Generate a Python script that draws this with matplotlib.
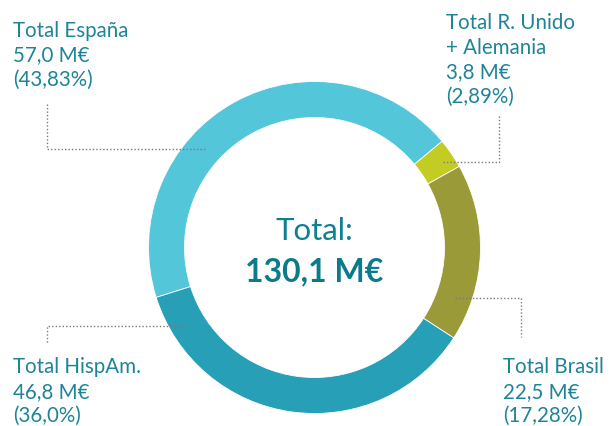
import matplotlib
matplotlib.use("Agg")
import matplotlib.pyplot as plt

# ---- data ----
categories = ["Total España", "Total R. Unido\n+ Alemania", "Total Brasil", "Total HispAm."]
values = [57.0, 3.8, 22.5, 46.8]
percent_labels = ["43,83%", "2,89%", "17,28%", "36,0%"]
value_labels = ["57,0 M€", "3,8 M€", "22,5 M€", "46,8 M€"]
total_label = "130,1 M€"
colors = ["#53C6DA", "#C3CC22", "#9A9A38", "#279FB7"]

W, H = 614, 426
TXT = "#1E8499"
FONT = "Lato"

fig = plt.figure(figsize=(W / 100, H / 100), dpi=100)
ax = fig.add_axes([0, 0, 1, 1])

def Y(y):
    return H - y

cx, cy = 314.5, 247.5
R = 166
ax.pie(values, colors=colors, startangle=197.5, counterclock=False,
       radius=R, center=(cx, Y(cy)),
       wedgeprops=dict(width=36, linewidth=0.6, edgecolor="white"))
ax.set_xlim(0, W)
ax.set_ylim(0, H)
ax.set_aspect("equal")
ax.axis("off")

# center text
ax.text(cx, Y(240.5), "Total:", ha="center", va="baseline", fontsize=22.5,
        color="#0F7F92", family=FONT)
ax.text(cx, Y(281.5), total_label, ha="center", va="baseline", fontsize=23,
        color="#0B7A8C", family=FONT, fontweight="bold")

# labels
def label(x, y0, lines):
    for i, s in enumerate(lines):
        ax.text(x, Y(y0 + i * 24.5), s, ha="left", va="baseline", fontsize=14.8,
                color=TXT, family=FONT)

label(13, 36.7, ["Total España", value_labels[0], f"({percent_labels[0]})"])
label(446.5, 29, ["Total R. Unido", "+ Alemania", value_labels[1], f"({percent_labels[1]})"])
label(503, 373.3, ["Total Brasil", value_labels[2], f"({percent_labels[2]})"])
label(13, 373.3, ["Total HispAm.", value_labels[3], f"({percent_labels[3]})"])

# leader lines
lk = dict(color="#7A7A7A", linestyle=(0, (1, 1.5)), linewidth=1)
ax.plot([47, 47, 205], [Y(104), Y(149), Y(149)], **lk)
ax.plot([443, 499, 499], [Y(162), Y(162), Y(114)], **lk)
ax.plot([455, 521, 521], [Y(298), Y(298), Y(337)], **lk)
ax.plot([185, 47, 47], [Y(326), Y(326), Y(343)], **lk)

fig.savefig("out.png", dpi=100)
